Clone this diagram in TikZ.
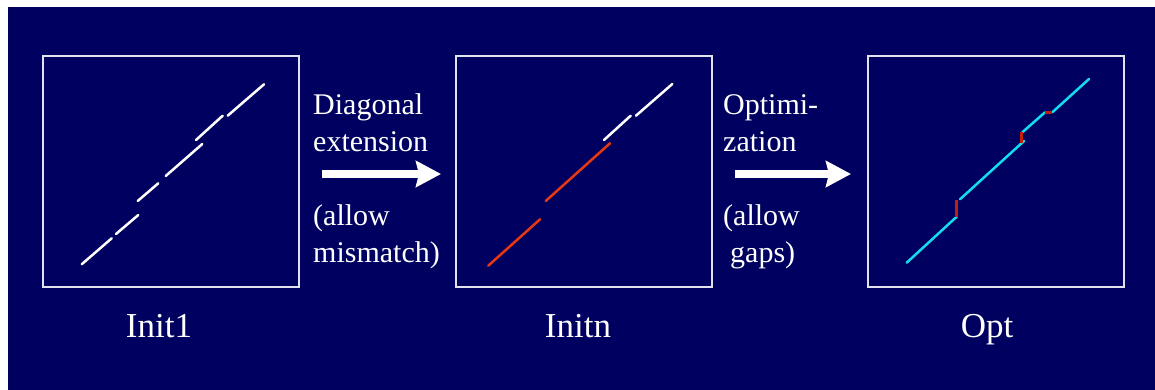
\documentclass[tikz,border=0pt]{standalone}
\usepackage{fontspec}
\setmainfont{Liberation Serif}
\usetikzlibrary{arrows.meta}
\definecolor{slidenavy}{HTML}{000060}
\definecolor{framegray}{HTML}{E2E2EE}
\definecolor{hitred}{HTML}{E8380F}
\definecolor{gapred}{HTML}{C42008}
\definecolor{hitcyan}{HTML}{12DDEE}
\tikzset{
  panel/.style={
    draw=framegray,
    line width=2pt,
    minimum width=256pt,
    minimum height=230pt,
    inner sep=0pt
  },
  caption/.style={
    text=white,
    anchor=base,
    inner sep=0pt,
    font=\fontsize{35}{40}\selectfont
  },
  steptext/.style={
    text=white,
    anchor=base west,
    inner sep=0pt,
    font=\fontsize{30}{36}\selectfont
  },
  bigarrow/.style={
    -{Stealth[length=25pt,width=26pt,inset=3pt]},
    line width=7pt,
    draw=white
  },
  seed/.style={draw=white, line width=2.5pt, line cap=round},
  extended/.style={seed, draw=hitred},
  aligned/.style={seed, draw=hitcyan},
  gapline/.style={seed, draw=gapred, line width=3pt, line cap=butt}
}

\begin{document}
\begin{tikzpicture}[x=1pt, y=-1pt]
    \useasboundingbox (0,0) rectangle (1155,390);
    \fill[white] (0,0) rectangle (1155,390);
    \fill[slidenavy] (8,7) rectangle (1155,390);

    \node[panel] (init1) at (170.5,171.5) {};
    \node[panel] (initn) at (584,171.5) {};
    \node[panel] (opt) at (996,171.5) {};

    \node[caption] (init1lab) at (159,337) {Init1};
    \node[caption] (initnlab) at (578,337) {Initn};
    \node[caption] (optlab) at (987,337) {Opt};

    % first seeds
    \draw[seed] (81.7,264.3) -- (111.7,238.3);
    \draw[seed] (116,234) -- (138.3,215);
    \draw[seed] (137.7,201) -- (158.3,183.3);
    \draw[seed] (165.7,176) -- (202.3,144);
    \draw[seed] (196,140) -- (222.7,115.7);
    \draw[seed] (227.7,115.7) -- (264,84.3);

    % after extension
    \draw[extended] (488.3,265.7) -- (540,219.3);
    \draw[extended] (545.7,201) -- (610,143.3);
    \draw[seed] (604,140) -- (630.7,115.7);
    \draw[seed] (636,115.7) -- (672.3,84);

    % optimal path
    \draw[aligned] (906.7,262.7) -- (956.7,216.7);
    \draw[aligned] (960,199.3) -- (1024,141);
    \draw[aligned] (1022.3,132.3) -- (1045,112.3);
    \draw[aligned] (1052.3,112.3) -- (1089,79);
    \draw[gapline] (956.7,216.7) -- (956.7,200);
    \draw[gapline] (1021,142.7) -- (1021,132.3);
    \draw[gapline] (1045,112.3) -- (1052.3,112.3);

    \node[steptext] (diagtxt) at (313,115) {Diagonal};
    \node[steptext] (exttxt) at (313,152) {extension};
    \node[steptext] (allowmm) at (313,225) {(allow};
    \node[steptext] (mmtxt) at (313,262) {mismatch)};
    \coordinate (arr1s) at (322,174);
    \coordinate (arr1e) at (441,174);
    \draw[bigarrow] (arr1s) -- (arr1e);

    \node[steptext] (opttxt) at (723,115) {Optimi-};
    \node[steptext] (zattxt) at (723,152) {zation};
    \node[steptext] (allowgp) at (723,225) {(allow};
    \node[steptext] (gaptxt) at (730,262) {gaps)};
    \coordinate (arr2s) at (735,174);
    \coordinate (arr2e) at (851,174);
    \draw[bigarrow] (arr2s) -- (arr2e);
\end{tikzpicture}
\end{document}
